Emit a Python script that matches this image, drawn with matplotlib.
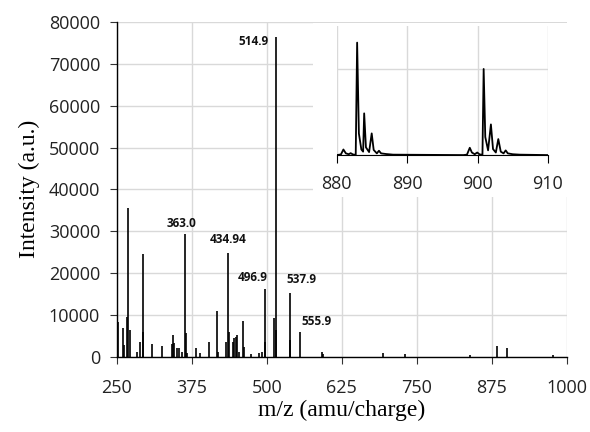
import matplotlib.pyplot as plt
from matplotlib.patches import Rectangle

# main spectrum: peak positions (m/z) and heights (a.u.)
peak_mz = [250.0, 250.8, 251.6, 260.4, 262.0, 267.7, 268.9, 272.0, 284.0, 288.8,
           292.9, 293.6, 309.3, 324.9, 341.6, 343.2, 345.4, 349.9, 354.3, 358.0,
           363.0, 364.5, 366.5, 381.6, 389.0, 403.8, 416.6, 418.5, 432.1, 434.94,
           437.0, 443.6, 445.9, 448.0, 450.3, 454.0, 459.8, 461.5, 474.0, 486.6,
           491.5, 496.9, 497.8, 512.5, 514.9, 516.0, 537.9, 538.8, 555.9, 592.4,
           594.0, 694.4, 730.5, 839.0, 882.9, 900.9, 977.0]
peak_int = [62000, 18300, 8200, 6800, 2800, 9500, 35500, 6400, 1200, 3600,
            24500, 6000, 3000, 2600, 3000, 5200, 3200, 2000, 2000, 1200,
            29300, 5600, 800, 2000, 800, 3600, 11000, 1200, 3600, 24900,
            6000, 3600, 4400, 4800, 5200, 1200, 8600, 2400, 600, 1000,
            1200, 16300, 3600, 9200, 76500, 6400, 15300, 4100, 5900, 1200,
            600, 1000, 600, 400, 2550, 2000, 300]

# labelled peaks: m/z, text, horizontal alignment, offset (points)
label_mz = [514.9, 363.0, 434.94, 496.9, 537.9, 555.9]
label_txt = ["514.9", "363.0", "434.94", "496.9", "537.9", "555.9"]
label_ha = ["right", "center", "center", "right", "left", "left"]
label_off = [(-5, 1.5), (-2, 3), (0, 5), (2, 3), (-2, 5), (1, 3)]
label_va = ["top", "bottom", "bottom", "bottom", "bottom", "bottom"]

# inset profile (880-910 m/z)
inset_mz = [880.0, 880.6, 880.95, 881.3, 881.7, 881.98, 882.3, 882.7, 882.9, 883.15,
            883.5, 883.75, 883.9, 884.15, 884.6, 884.97, 885.25, 885.7, 886.0, 886.3,
            887.0, 888.0, 898.0, 898.5, 898.9, 899.2, 899.6, 899.96, 900.3, 900.7,
            900.87, 901.1, 901.5, 901.9, 902.2, 902.6, 902.95, 903.3, 903.7, 904.0,
            904.3, 905.0, 906.0, 910.0]
inset_int = [0, 15, 130, 40, 20, 45, 15, 5, 2612, 500,
             130, 80, 969, 180, 70, 504, 120, 40, 101, 40,
             25, 10, 0, 10, 170, 60, 20, 60, 15, 10,
             2000, 420, 110, 713, 140, 60, 372, 80, 40, 109,
             40, 20, 10, 0]

plt.rcParams["font.family"] = ["Open Sans", "DejaVu Sans"]
grid_col = "#d9d9d9"
tick_fs = 13

fig = plt.figure(figsize=(5.9, 4.32), dpi=100)
ax = fig.add_axes([0.198, 0.1743, 0.7627, 0.7747])

ax.vlines(peak_mz, 0, peak_int, color="black", linewidth=1.2)
for mz, txt, ha, va, off in zip(label_mz, label_txt, label_ha, label_va, label_off):
    h = peak_int[peak_mz.index(mz)]
    ax.annotate(txt, (mz, h), xytext=off, textcoords="offset points",
                ha=ha, va=va, fontsize=8.5, fontweight="bold", color="#111111")

ax.set_xlim(250, 1000)
ax.set_ylim(0, 80000)
ax.set_xticks([250, 375, 500, 625, 750, 875, 1000])
ax.set_yticks(range(0, 80001, 10000))
ax.grid(True, color=grid_col, linewidth=1.0)
ax.set_axisbelow(True)
for s in ["top", "right"]:
    ax.spines[s].set_visible(False)
ax.spines["left"].set_linewidth(1.0)
ax.spines["bottom"].set_linewidth(1.0)
ax.tick_params(axis="y", length=5, width=0.8, direction="out", pad=7, labelsize=tick_fs,
               colors="#333333", labelcolor="#222222")
ax.tick_params(axis="x", length=5, width=0.8, direction="out", pad=11, labelsize=tick_fs,
               colors="#333333", labelcolor="#222222")
ax.set_xlabel("m/z (amu/charge)", family="Liberation Serif", fontsize=17, labelpad=2)
ax.set_ylabel("Intensity (a.u.)", family="Liberation Serif", fontsize=17, labelpad=6)

# white panel behind the inset
fig.add_artist(Rectangle((0.5305, 0.544), 0.434, 0.402, transform=fig.transFigure,
                         facecolor="white", edgecolor="none", zorder=0.5))

ins = fig.add_axes([0.5707, 0.641, 0.358, 0.299], zorder=1)
ins.plot(inset_mz, inset_int, color="black", linewidth=1.3)
ins.set_xlim(880, 910)
ins.set_ylim(0, 3000)
ins.set_xticks([880, 890, 900, 910])
ins.set_yticks([0, 2000])
ins.set_yticklabels([])
ins.grid(True, color=grid_col, linewidth=1.0)
ins.set_axisbelow(True)
ins.patch.set_alpha(0)
for s in ["top", "right", "left"]:
    ins.spines[s].set_visible(False)
ins.tick_params(axis="y", length=0)
ins.tick_params(axis="x", length=6, width=0.8, direction="out", pad=8, labelsize=tick_fs,
                labelcolor="#222222")

fig.savefig("out.png", dpi=100)
